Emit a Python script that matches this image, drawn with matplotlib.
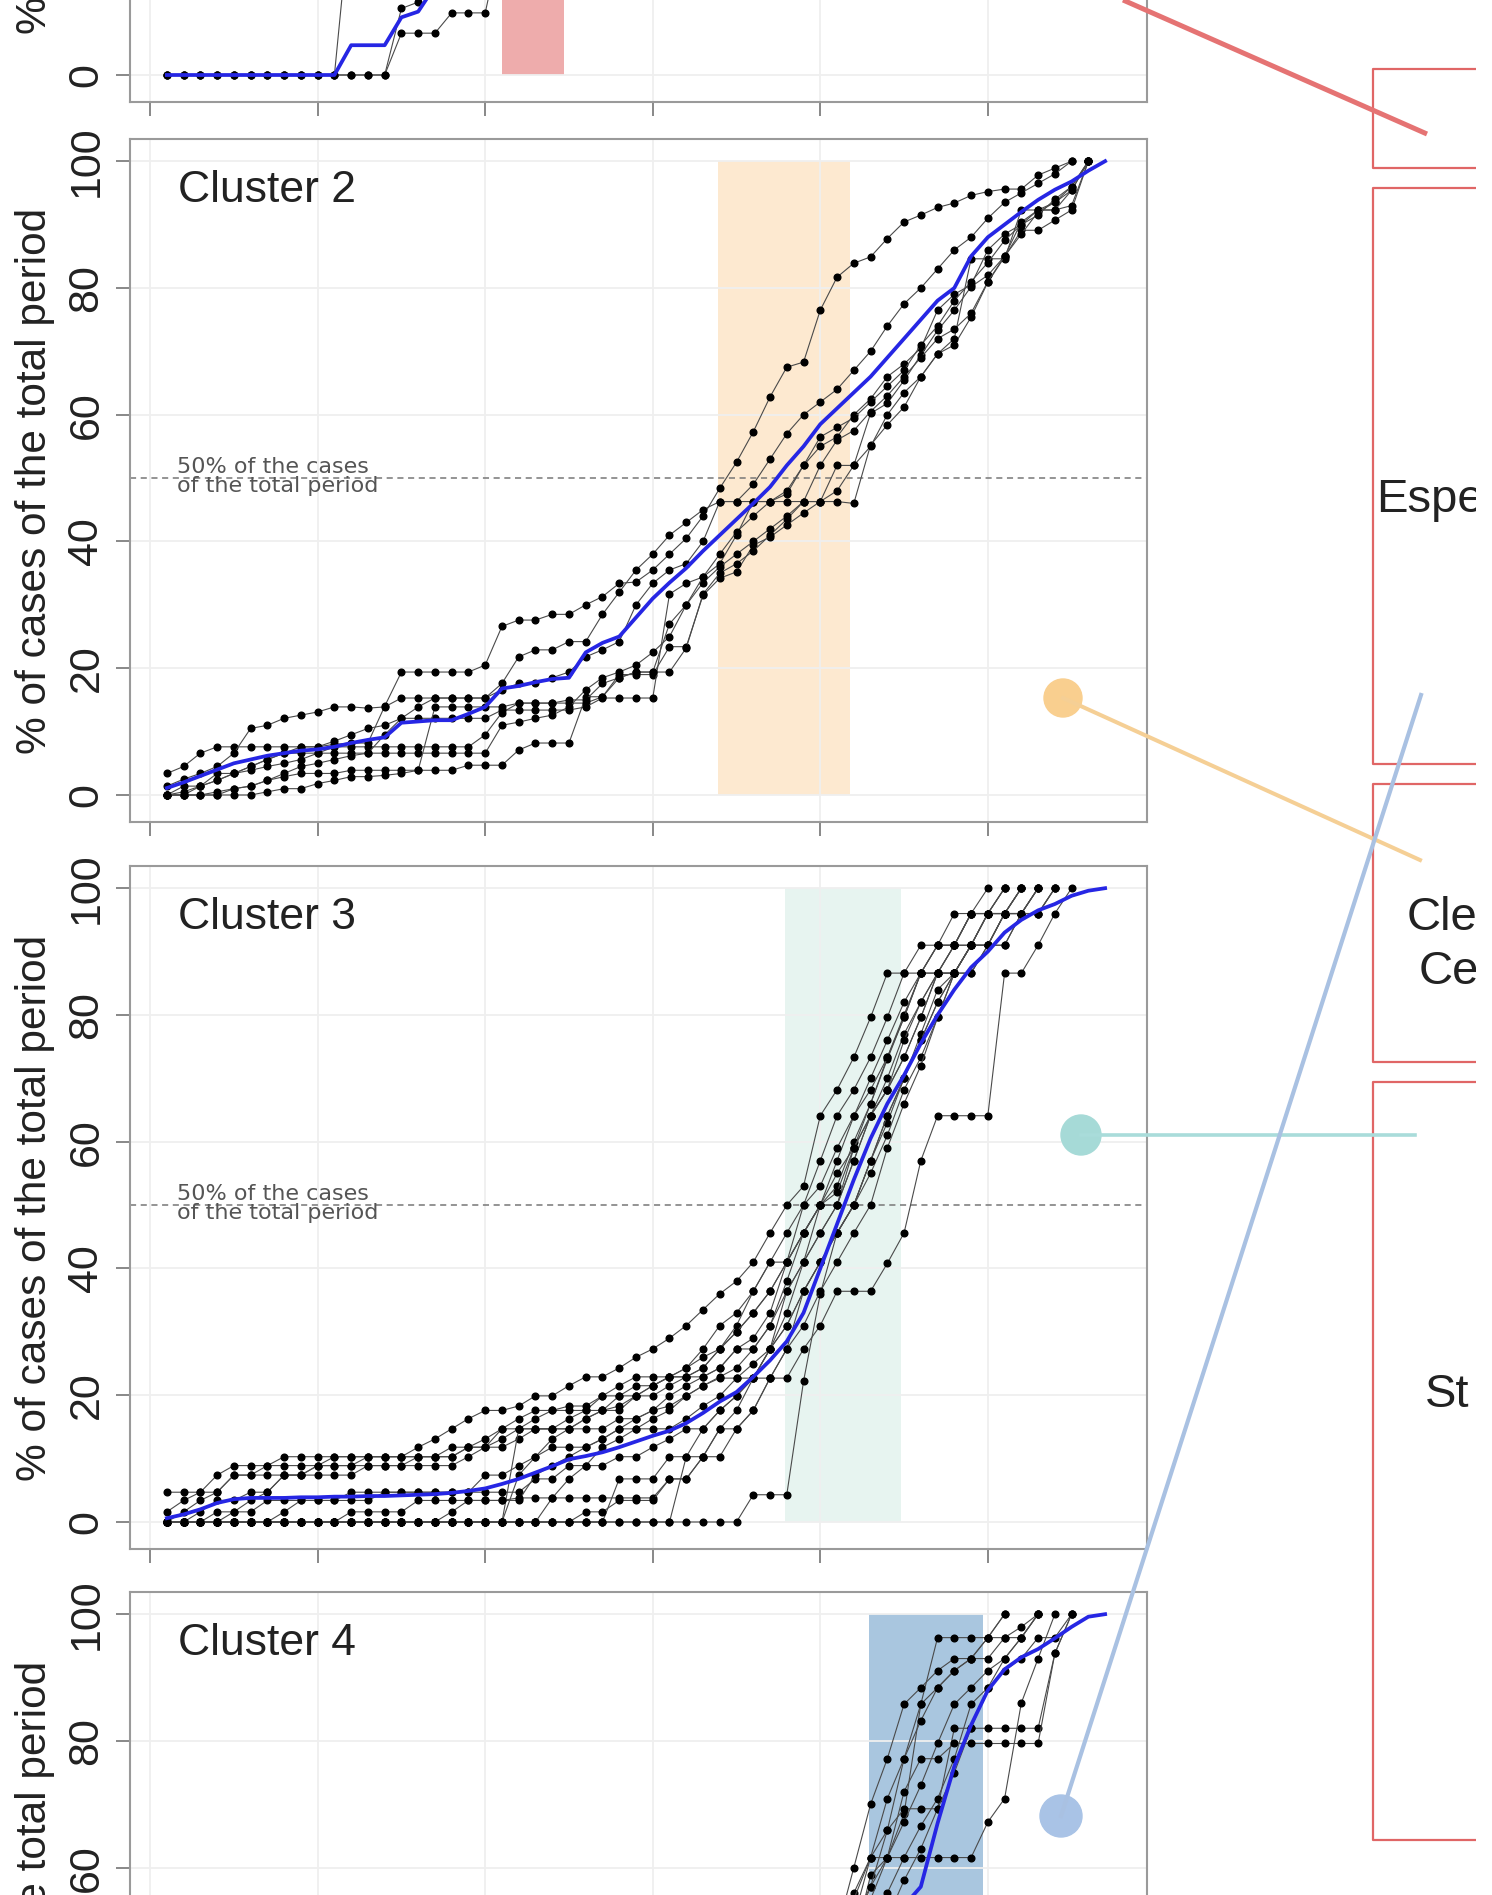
import matplotlib

matplotlib.use("Agg")
import matplotlib.pyplot as plt
from matplotlib.patches import Circle, Rectangle

plt.rcParams["font.family"] = ["Liberation Sans", "DejaVu Sans"]

W, H = 1492, 1895

# ---- data: cumulative % of cases per week (x = week 1..57) ----
x_ticks = [0, 10, 20, 30, 40, 50]
y_ticks = [0, 20, 40, 60, 80, 100]

# cluster 1 (only the bottom of the panel is visible)
c1_a = [0] * 11 + [27.0, 44.0, 58.0, 70.0, 80.0, 88.0, 94.0, 98.0, 100]
c1_b = [0] * 14 + [6.6, 6.6, 6.6, 9.8, 9.8, 9.8, 22.0, 38.0, 55.0, 70.0, 82.0, 91.0, 97.0, 100]
c1_c = [0] * 14 + [10.5, 11.5, 16.0, 24.0, 34.0, 46.0, 58.0, 69.0, 79.0, 87.0, 93.0, 97.0, 100]
c1_mean = [0] * 11 + [4.7, 4.7, 4.7, 9.1, 10.0, 14.0, 20.0, 28.0, 38.0, 50.0, 62.0, 72.0,
                      80.0, 87.0, 92.0, 96.0, 98.5, 100]
c1_band = (21.0, 24.7)

# cluster 2
c2_a = [3.4, 4.5, 6.6, 7.6, 7.6, 7.6, 7.6, 7.6, 7.6, 7.6, 8.0, 8.2, 8.2, 14.0, 19.4, 19.4,
        19.4, 19.4, 19.4, 20.5, 26.6, 27.6, 27.6, 28.5, 28.5, 30.0, 31.3, 33.4, 33.6, 35.5,
        38.0, 40.5, 44.0, 48.4, 52.5, 57.3, 62.8, 67.5, 68.3, 76.5, 81.7, 83.9, 84.9, 87.8,
        90.4, 91.5, 92.7, 93.4, 94.6, 95.2, 95.6, 95.6, 97.8, 98.9, 100]
c2_b = [1.4, 2.5, 3.4, 4.5, 6.6, 10.5, 11.0, 12.1, 12.6, 13.1, 13.9, 13.9, 13.7, 13.9, 15.3,
        15.3, 15.3, 15.3, 15.3, 15.3, 16.6, 17.6, 17.6, 18.5, 19.4, 21.8, 22.9, 24.2, 30.0,
        33.4, 35.5, 36.5, 40.0, 46.3, 46.3, 46.3, 46.3, 47.5, 52.0, 55.0, 56.5, 60.0, 62.5,
        66.0, 68.0, 70.5, 76.5, 79.0, 80.5, 86.0, 88.5, 90.0, 92.3, 93.5, 95.4, 100]
c2_c = [0, 0, 0, 0, 0, 0, 0.5, 1.0, 1.0, 1.8, 2.3, 2.9, 2.9, 3.1, 3.4, 3.9, 3.9, 3.9, 4.7,
        4.7, 4.7, 7.1, 8.2, 8.2, 8.2, 15.5, 15.5, 19.0, 19.0, 19.0, 23.4, 23.4, 31.5, 34.2,
        35.2, 39.4, 40.7, 42.6, 44.5, 46.3, 46.3, 46.0, 55.2, 58.4, 61.2, 66.0, 69.6, 71.0,
        75.4, 80.9, 84.9, 89.1, 89.1, 90.7, 92.3, 100]
c2_d = [0, 0, 1.4, 2.3, 3.4, 3.9, 4.5, 5.0, 5.6, 6.6, 7.6, 7.6, 7.6, 7.6, 7.6, 7.6, 7.6, 7.6,
        7.6, 9.5, 13.0, 14.5, 14.5, 14.5, 14.5, 14.5, 15.5, 18.5, 19.4, 19.4, 19.4, 23.2, 31.7,
        35.0, 36.5, 38.5, 41.0, 43.5, 46.3, 46.3, 52.0, 52.0, 60.2, 61.8, 65.4, 69.4, 73.3,
        76.5, 80.2, 82.0, 85.0, 90.4, 92.3, 92.3, 95.4, 100]
c2_e = [0, 1.4, 1.4, 3.4, 3.4, 4.5, 5.6, 6.6, 6.6, 6.6, 6.6, 6.6, 6.6, 9.5, 12.1, 12.1, 12.1,
        12.1, 12.1, 12.1, 13.4, 13.4, 13.4, 13.4, 13.4, 13.9, 15.3, 15.3, 15.3, 15.3, 31.7,
        33.4, 34.4, 36.5, 41.0, 46.3, 46.3, 46.3, 46.3, 46.3, 48.0, 52.0, 55.0, 60.0, 63.5,
        66.0, 69.6, 72.0, 84.6, 84.6, 84.6, 92.3, 92.3, 92.3, 93.0, 100]
c2_f = [0, 0, 0, 0.5, 1.0, 1.4, 2.3, 3.4, 4.5, 5.0, 5.6, 6.2, 6.6, 6.6, 6.6, 6.6, 6.6, 6.6,
        6.6, 6.6, 11.0, 11.5, 12.1, 12.6, 13.9, 16.6, 18.5, 19.4, 20.5, 22.5, 25.0, 30.0,
        33.5, 36.0, 38.0, 40.0, 42.0, 44.0, 46.3, 52.0, 56.0, 57.5, 60.5, 63.0, 66.0, 69.0,
        72.0, 73.5, 76.0, 81.0, 85.0, 88.5, 92.0, 93.5, 96.0, 100]
c2_g = [0, 0, 0, 0, 1.0, 1.4, 2.3, 2.9, 3.4, 3.4, 3.4, 3.9, 3.9, 3.9, 3.9, 3.9, 13.9, 13.9,
        13.9, 13.9, 13.9, 14.5, 14.5, 14.5, 15.0, 15.0, 17.6, 18.5, 19.4, 19.4, 27.0, 30.0,
        34.4, 38.0, 41.5, 44.0, 46.3, 48.0, 52.0, 56.5, 58.0, 59.5, 62.0, 64.5, 67.0, 71.0,
        74.0, 78.0, 81.0, 84.0, 87.5, 90.0, 91.5, 94.0, 96.0, 100]
c2_h = [0, 0.5, 1.4, 2.3, 3.4, 4.5, 5.6, 6.6, 7.6, 7.6, 8.5, 9.5, 10.5, 11.0, 12.1, 13.9,
        15.3, 15.3, 15.3, 15.3, 17.6, 21.8, 22.9, 22.9, 24.2, 24.2, 28.5, 32.0, 35.5, 38.0,
        41.0, 43.0, 45.0, 46.3, 46.3, 49.0, 53.0, 57.0, 60.0, 62.0, 64.0, 67.0, 70.0, 74.0,
        77.5, 80.0, 83.0, 86.0, 88.0, 91.0, 93.5, 95.0, 96.5, 98.0, 100]
c2_mean = [1.1, 2.0, 3.0, 4.0, 5.0, 5.6, 6.2, 6.6, 7.0, 7.2, 7.6, 8.2, 8.7, 9.1, 11.4, 11.6,
           11.8, 11.8, 12.8, 13.9, 16.8, 17.2, 17.8, 18.3, 18.5, 22.5, 24.0, 25.0, 28.0, 31.0,
           33.5, 35.8, 38.5, 41.0, 43.5, 46.0, 48.6, 52.0, 55.0, 58.5, 61.0, 63.5, 66.0, 69.0,
           72.0, 75.0, 78.0, 80.0, 85.0, 88.0, 90.0, 92.0, 93.9, 95.5, 96.8, 98.5, 100]
c2_band = (33.9, 41.8)

# cluster 3
c3_a = [4.7, 4.7, 4.7, 7.4, 8.9, 8.9, 8.9, 10.3, 10.3, 10.3, 10.3, 10.3, 10.3, 10.3, 10.3,
        11.8, 13.1, 14.7, 16.3, 17.6, 17.6, 18.3, 19.9, 19.9, 21.5, 22.9, 22.9, 24.3, 26.0,
        27.3, 29.0, 31.0, 33.5, 36.0, 38.0, 41.0, 45.6, 50.0, 53.0, 64.1, 68.2, 73.3, 79.6,
        86.6, 86.6, 91.0, 91.0, 96.0, 96.0, 100]
c3_b = [0, 1.6, 3.4, 4.7, 7.4, 7.4, 8.9, 8.9, 8.9, 8.9, 10.3, 10.3, 10.3, 10.3, 10.3, 10.3,
        10.3, 10.3, 11.8, 11.8, 14.7, 14.7, 16.3, 17.6, 17.6, 17.6, 19.9, 19.9, 21.5, 21.5,
        22.9, 22.9, 24.3, 27.3, 30.0, 33.0, 36.4, 41.0, 50.0, 57.0, 64.1, 68.2, 73.3, 79.6,
        86.6, 86.6, 91.0, 91.0, 96.0, 96.0, 100]
c3_c = [0, 0, 1.6, 3.4, 3.4, 4.7, 4.7, 7.4, 7.4, 7.4, 7.4, 7.4, 8.9, 8.9, 8.9, 8.9, 8.9, 8.9,
        10.3, 11.8, 11.8, 13.1, 14.7, 14.7, 14.7, 16.3, 17.6, 17.6, 19.9, 19.9, 21.5, 22.9,
        22.9, 24.3, 27.3, 27.3, 31.0, 36.4, 41.0, 50.0, 57.0, 64.0, 70.0, 76.0, 82.0, 86.6,
        86.6, 91.0, 96.0, 96.0, 96.0, 100]
c3_d = [0, 0, 0, 0, 0, 0, 0, 1.6, 3.4, 3.4, 3.4, 3.4, 3.4, 4.7, 4.7, 4.7, 4.7, 4.7, 4.7, 7.4,
        7.4, 8.9, 10.3, 11.8, 11.8, 11.8, 13.1, 14.7, 14.7, 16.3, 17.6, 19.9, 21.5, 22.7, 22.7,
        22.7, 27.3, 36.4, 41.0, 45.6, 50.0, 59.0, 66.0, 73.0, 79.6, 86.6, 86.6, 91.0, 91.0,
        96.0, 96.0, 100]
c3_e = [0] * 21 + [14.7, 14.7, 14.7, 16.3, 17.6, 17.6, 19.9, 19.9, 21.5, 22.9, 22.9, 24.3,
                   27.3, 31.0, 36.4, 41.0, 45.6, 50.0, 53.0, 59.0, 64.1, 68.2, 73.3, 80.0,
                   86.6, 91.0, 91.0, 96.0, 96.0, 100]
c3_f = [0] * 23 + [3.8, 3.8, 3.8, 3.8, 3.8, 3.8, 3.8, 6.8, 6.8, 10.3, 14.7, 17.6, 22.7, 27.3,
                   33.0, 41.0, 45.6, 50.0, 57.0, 64.1, 70.0, 77.0, 82.0, 86.6, 91.0, 91.0,
                   96.0, 96.0, 96.0, 100]
c3_g = [0] * 27 + [6.8, 6.8, 6.8, 10.3, 10.3, 10.3, 14.7, 14.7, 17.6, 22.7, 27.3, 36.4, 41.0,
                   45.6, 50.0, 57.0, 64.1, 70.0, 76.0, 82.0, 86.6, 86.6, 91.0, 91.0, 96.0,
                   96.0, 100]
c3_h = [0] * 35 + [4.3, 4.3, 4.3, 22.2, 36.0, 45.6, 50.0, 57.0, 63.0, 70.0, 77.0, 84.0, 86.6,
                   91.0, 91.0, 96.0, 96.0, 96.0, 100]
c3_i = [0, 0, 0, 0, 1.6, 1.6, 3.4, 3.4, 3.4, 3.4, 3.4, 4.7, 4.7, 4.7, 4.7, 4.7, 4.7, 4.7, 4.7,
        4.7, 4.7, 4.7, 6.8, 6.8, 8.9, 8.9, 8.9, 10.3, 10.3, 11.8, 13.1, 14.7, 14.7, 17.6, 19.9,
        22.7, 22.7, 22.7, 27.3, 31.0, 36.4, 36.4, 36.4, 40.8, 45.6, 57.0, 64.1, 64.1, 64.1,
        64.1, 86.6, 86.6, 91.0, 96.0, 100]
c3_j = [0] * 17 + [1.6, 3.4, 3.4, 3.4, 3.4, 7.4, 8.9, 10.3, 11.8, 13.1, 14.7, 16.3, 17.6,
                   18.3, 19.9, 21.5, 22.9, 24.3, 27.3, 31.0, 38.0, 45.6, 50.0, 53.0, 60.0,
                   66.0, 73.3, 79.6, 86.6, 91.0, 91.0, 96.0, 96.0, 100]
c3_k = [1.6, 3.4, 4.7, 4.7, 7.4, 7.4, 7.4, 7.4, 7.4, 8.9, 8.9, 8.9, 8.9, 8.9, 8.9, 10.3, 10.3,
        11.8, 11.8, 13.1, 14.7, 16.3, 17.6, 17.6, 18.3, 18.3, 19.9, 21.5, 22.9, 22.9, 22.9,
        24.3, 27.3, 31.0, 33.0, 36.4, 41.0, 41.0, 45.6, 50.0, 50.0, 57.0, 64.1, 68.2, 73.3,
        79.6, 86.6, 86.6, 91.0, 91.0, 96.0, 96.0, 100]
c3_l = [0] * 11 + [1.6, 1.6, 1.6, 1.6, 3.4, 3.4, 3.4, 3.4, 3.4, 3.4, 3.8, 3.8, 3.8, 6.8, 8.9,
                   11.8, 13.1, 14.7, 14.7, 14.7, 16.3, 18.3, 19.9, 22.7, 25.0, 27.3, 31.0,
                   36.4, 41.0, 45.6, 50.0, 55.0, 61.0, 68.2, 73.3, 79.6, 86.6, 91.0, 91.0,
                   96.0, 96.0, 100]
c3_m = [0, 0, 0, 1.6, 1.6, 3.4, 4.7, 7.4, 7.4, 8.9, 8.9, 8.9, 10.3, 10.3, 10.3, 10.3, 10.3,
        10.3, 11.8, 11.8, 13.1, 14.7, 14.7, 14.7, 14.7, 16.3, 17.6, 18.3, 19.9, 21.5, 22.9,
        24.3, 26.0, 27.3, 30.0, 33.0, 36.4, 41.0, 45.6, 50.0, 52.0, 59.0, 64.1, 68.2, 76.0,
        82.0, 86.6, 86.6, 91.0, 96.0, 96.0, 100]
c3_n = [0] * 21 + [7.4, 10.3, 13.1, 14.7, 14.7, 14.7, 16.3, 16.3, 17.6, 19.9, 21.5, 22.9,
                   24.3, 27.3, 29.0, 33.0, 41.0, 45.6, 50.0, 55.0, 59.0, 64.1, 68.2, 73.3,
                   79.6, 86.6, 86.6, 91.0, 96.0, 96.0, 100]
c3_o = [0] * 31 + [10.3, 14.7, 17.6, 19.9, 22.7, 27.3, 31.0, 36.4, 41.0, 45.6, 50.0, 57.0,
                   64.1, 70.0, 76.0, 82.0, 86.6, 91.0, 91.0, 96.0, 96.0, 100]
c3_p = [0] * 25 + [1.6, 1.6, 3.4, 3.4, 3.4, 6.8, 6.8, 10.3, 10.3, 14.7, 17.6, 22.7, 27.3,
                   31.0, 36.4, 41.0, 45.6, 50.0, 59.0, 66.0, 72.0, 79.6, 86.6, 86.6, 91.0,
                   91.0, 96.0, 96.0, 100]
c3_mean = [0.6, 1.2, 2.0, 3.0, 3.6, 3.8, 3.8, 3.8, 3.9, 3.9, 4.0, 4.0, 4.1, 4.1, 4.2, 4.3,
           4.4, 4.6, 4.9, 5.3, 6.0, 6.8, 7.8, 8.8, 9.9, 10.4, 11.0, 11.8, 12.7, 13.6, 14.4,
           15.6, 17.2, 19.0, 20.5, 22.9, 25.5, 28.5, 33.0, 40.0, 47.0, 54.0, 60.5, 66.0, 70.5,
           75.5, 80.0, 84.0, 87.5, 90.0, 93.0, 95.0, 96.5, 97.5, 98.8, 99.6, 100]
c3_band = (37.9, 44.8)

# cluster 4 (series start at week 40; only the top of the panel is visible)
c4_start = 40
c4_a = [30, 45, 56, 61.6, 61.6, 68.5, 85.8, 96.3, 96.3, 96.3, 96.3, 100]
c4_b = [20, 35, 48, 58.8, 61.6, 61.6, 61.6, 61.6, 61.6, 61.6, 67.2, 70.9, 86.0, 93.0, 100]
c4_c = [25, 40, 52, 57, 65.9, 69.3, 69.3, 69.3, 82.0, 82.0, 82.0, 82.0, 82.0, 82.0, 93.8, 100]
c4_d = [30, 42, 55, 61.6, 65.9, 77.2, 83.2, 88.4, 91.1, 93.0, 93.0, 96.3, 96.3, 100]
c4_e = [22, 38, 50, 57, 61.6, 72.0, 77.2, 77.2, 79.6, 79.6, 79.6, 79.6, 79.6, 79.6, 93.8, 100]
c4_f = [35, 50, 60, 70, 77.2, 85.8, 88.4, 91.1, 93.0, 93.0, 96.3, 100]
c4_g = [28, 40, 52, 61.6, 70.9, 77.2, 85.8, 88.4, 91.1, 93.0, 96.3, 96.3, 98.0, 100]
c4_h = [15, 25, 40, 55, 61.6, 67.2, 73.0, 79.6, 85.8, 88.4, 91.1, 93.0, 96.3, 100]
c4_i = [10, 20, 35, 48, 56, 61.6, 66.6, 70.9, 77.2, 85.8, 88.4, 91.1, 93.0, 96.3, 96.3, 100]
c4_j = [12, 22, 30, 42, 52, 58.0, 63.0, 69.3, 75.0, 82.0, 88.4, 93.0, 96.3, 100]
c4_mean = [28, 34, 40, 45, 50, 54, 57, 67, 76, 82.5, 88, 91.3, 93.2, 94.5, 96.2, 98, 99.6, 100]
c4_band = (42.9, 49.7)

band_colors = ["#eeacac", "#fde9d0", "#e7f4f0", "#a9c6df"]
right_texts = ["Espe", "Cle", "Ce", "St"]

# ---- layout in pixels of the full picture ----
PANEL_LEFT, PANEL_W, PANEL_H = 130, 1017, 683
panel_tops = [-581, 139, 866, 1592]

fig = plt.figure(figsize=(W / 100, H / 100), dpi=100, facecolor="white")


def draw_panel(top, name, series, starts, mean, mean_start, band, band_color,
               shown_labels, show_name=True, show_note=True):
    ax = fig.add_axes([PANEL_LEFT / W, 1 - (top + PANEL_H) / H, PANEL_W / W, PANEL_H / H])
    ax.set_xlim(-1.2, 59.5)
    ax.set_ylim(-4.26, 103.5)
    ax.add_patch(Rectangle((band[0], 0), band[1] - band[0], 100, facecolor=band_color,
                           lw=0, zorder=0.8))
    for x in x_ticks:
        ax.axvline(x, color="#efefef", lw=1.3, zorder=1)
    for y in y_ticks:
        ax.axhline(y, color="#efefef", lw=1.3, zorder=1)
    ax.axhline(50, color="#777777", lw=1.1, ls=(0, (4, 3)), zorder=2)
    # texts that would fall wholly outside the picture are left out
    if show_note:
        ax.text(1.6, 50.2, "50% of the cases\nof the total period", fontsize=16,
                family="DejaVu Sans", color="#555555", va="center", linespacing=0.95,
                zorder=2)
    if show_name:
        ax.text(1.65, 95.4, name, fontsize=32, va="center", color="#222222")
    for vals, s in zip(series, starts):
        xs = list(range(s, s + len(vals)))
        ax.plot(xs, vals, color="#4a4a4a", lw=0.8, marker="o", ms=4.8,
                mfc="black", mec="black", zorder=3)
    ax.plot(list(range(mean_start, mean_start + len(mean))), mean, color="#2626e4",
            lw=2.7, zorder=4)

    for sp in ax.spines.values():
        sp.set_color("#9a9a9a")
        sp.set_linewidth(1.5)
    ax.set_xticks(x_ticks)
    ax.tick_params(axis="x", labelbottom=False, length=10, width=1.4, color="#888888")
    ax.set_yticks(y_ticks)
    ax.set_yticklabels([str(v) if v in shown_labels else "" for v in y_ticks], rotation=90,
                       va="center", fontsize=31, color="#222222")
    ax.tick_params(axis="y", length=10, width=1.4, color="#888888", pad=7)
    ax.set_ylabel("% of cases of the total period", fontsize=30.5, color="#222222")
    ax.yaxis.set_label_coords(-0.0735, 0.5)
    return ax


draw_panel(panel_tops[0], "Cluster 1", [c1_a, c1_b, c1_c], [1, 1, 1], c1_mean, 1,
           c1_band, band_colors[0], [0], show_name=False, show_note=False)
c2_all = [c2_a, c2_b, c2_c, c2_d, c2_e, c2_f, c2_g, c2_h]
draw_panel(panel_tops[1], "Cluster 2", c2_all, [1] * len(c2_all), c2_mean, 1,
           c2_band, band_colors[1], y_ticks)
c3_all = [c3_a, c3_b, c3_c, c3_d, c3_e, c3_f, c3_g, c3_h, c3_i, c3_j, c3_k, c3_l, c3_m,
          c3_n, c3_o, c3_p]
draw_panel(panel_tops[2], "Cluster 3", c3_all, [1] * len(c3_all), c3_mean, 1,
           c3_band, band_colors[2], y_ticks)
c4_all = [c4_a, c4_b, c4_c, c4_d, c4_e, c4_f, c4_g, c4_h, c4_i, c4_j]
draw_panel(panel_tops[3], "Cluster 4", c4_all, [c4_start] * len(c4_all), c4_mean, c4_start,
           c4_band, band_colors[3], [60, 80, 100], show_note=False)

# ---- overlay: connector lines and the cut-off boxes on the right ----
CUT = 1476
ov = fig.add_axes([0, 0, CUT / W, 1])
ov.set_xlim(0, CUT)
ov.set_ylim(H, 0)
ov.axis("off")
ov.patch.set_alpha(0)
ov.set_zorder(10)

box_left = 1373
for top, bottom in [(69, 168), (188, 764), (784, 1062), (1082, 1840)]:
    ov.plot([CUT + 5, box_left, box_left, CUT + 5], [top, top, bottom, bottom],
            color="#e06666", lw=1.6)

ov.plot([1123, 1427], [0, 134], color="#e57373", lw=3.6, solid_capstyle="butt")
ov.plot([1063, 1420], [698, 860], color="#f5cf95", lw=2.9)
ov.add_patch(Circle((1063, 698), 19, color="#f9cf8f"))
ov.plot([1081, 1415], [1135, 1135], color="#a9dcda", lw=2.6)
ov.add_patch(Circle((1081, 1135), 20, color="#a6dad7"))
ov.plot([1061, 1421], [1816, 695], color="#a9c1e2", lw=3.0)
ov.add_patch(Circle((1061, 1816), 21, color="#a9c3e6"))

for txt, (tx, ty) in zip(right_texts, [(1376, 500), (1407, 918), (1419, 972), (1425, 1395)]):
    ov.text(tx, ty, txt, fontsize=34, color="#222222", va="center", ha="left", clip_on=True)

fig.savefig("out.png", dpi=100, facecolor="white")
